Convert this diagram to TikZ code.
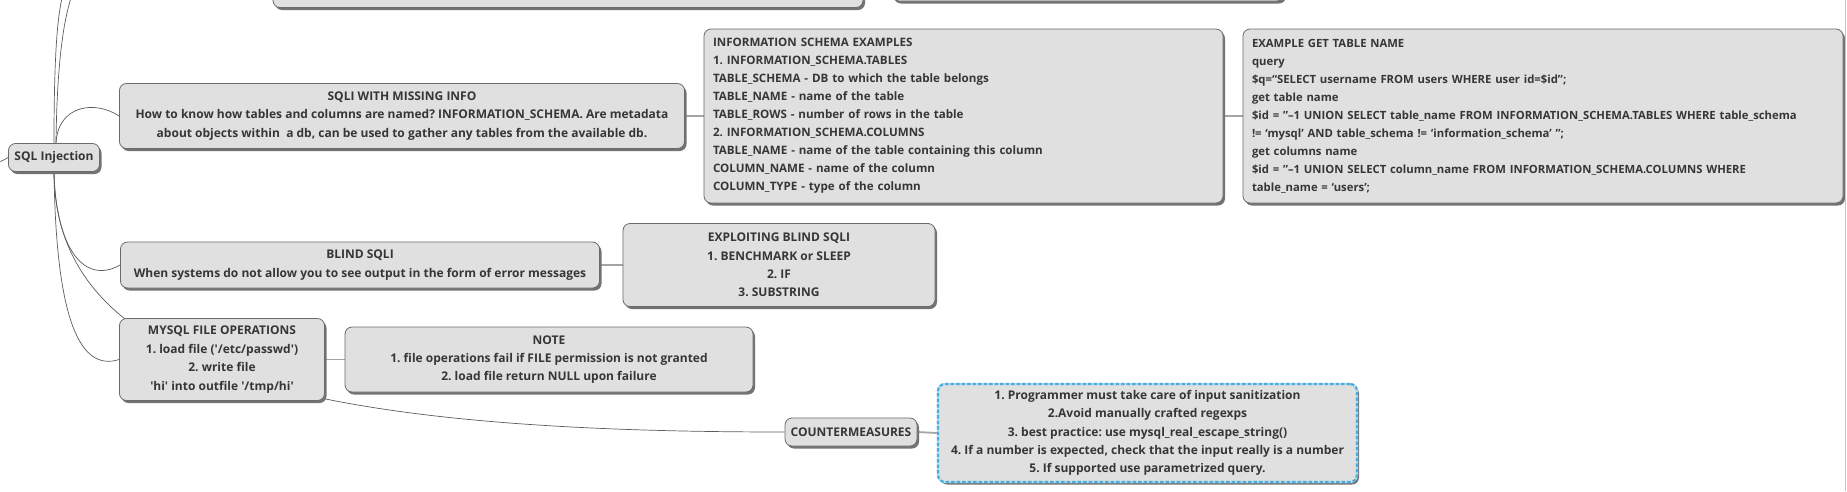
\documentclass[tikz,border=0pt]{standalone}
\usepackage{fontspec}
\setmainfont{Open Sans}
\usepackage{xcolor}
\usepackage{tikz}
\usetikzlibrary{shadows,backgrounds}

\definecolor{boxfill}{HTML}{E0E0E0}
\definecolor{boxline}{HTML}{6A6A6A}
\definecolor{ink}{HTML}{363636}
\definecolor{wire}{HTML}{5C5C5C}
\definecolor{subwire}{HTML}{A4A4A4}
\definecolor{selblue}{HTML}{4AAEDC}

\tikzset{
	topic/.style={draw=boxline, fill=boxfill, rounded corners=7pt, line width=0.8pt,
		text=ink, font=\bfseries\frenchspacing\fontsize{12}{18.4}\selectfont, align=center,
		inner sep=0pt, drop shadow={shadow xshift=2pt, shadow yshift=-2.5pt, fill=black!55, opacity=1}},
	listbox/.style={topic, align=left, inner xsep=9pt,
		font=\bfseries\frenchspacing\fontsize{11.6}{18}\selectfont},
	selbox/.style={topic, draw=selblue!40, line width=2.2pt,
		postaction={draw=selblue, dash pattern=on 3.5pt off 2pt, line width=2.2pt}},
	wire/.style={draw=wire, line width=0.7pt},
	subwire/.style={draw=subwire, line width=1.8pt}
}

\begin{document}
\begin{tikzpicture}[x=1pt, y=-1pt]
				\useasboundingbox (0,0) rectangle (1847,491);
				
				% cut-off topics above
				\node[topic, minimum width=590, minimum height=40] (topA) at (568,-12.5) {};
				\node[topic, minimum width=392, minimum height=40] (topB) at (1088,-19) {};
				
				% root
				\node[topic, minimum width=91, minimum height=28] (root) at (54,157.5) {SQL Injection};
				
				% first branch
				\node[topic, minimum width=565, minimum height=65] (info) at (402,116)
				{SQLI WITH MISSING INFO\\How to know how tables and columns are named? INFORMATION\_SCHEMA. Are metadata\\about objects within\ \ a db, can be used to gather any tables from the available db.};
				\node[listbox, text width=501, minimum height=174] (schema) at (963.5,116)
				{INFORMATION SCHEMA EXAMPLES\\1. INFORMATION\_SCHEMA.TABLES\\TABLE\_SCHEMA - DB to which the table belongs\\TABLE\_NAME - name of the table\\TABLE\_ROWS - number of rows in the table\\2. INFORMATION\_SCHEMA.COLUMNS\\TABLE\_NAME - name of the table containing this column\\COLUMN\_NAME - name of the column\\COLUMN\_TYPE - type of the column};
				\node[listbox, text width=582, minimum height=174, font=\bfseries\frenchspacing\fontsize{11.3}{18}\selectfont] (getname) at (1543,116)
				{EXAMPLE GET TABLE NAME\\query\\\$q=“SELECT username FROM users WHERE user id=\$id”;\\get table name\\\$id = ”–1 UNION SELECT table\_name FROM INFORMATION\_SCHEMA.TABLES WHERE table\_schema\\!= ‘mysql’ AND table\_schema != ‘information\_schema’ ”;\\get columns name\\\$id = ”–1 UNION SELECT column\_name FROM INFORMATION\_SCHEMA.COLUMNS WHERE\\table\_name = ‘users’;};
				
				% blind
				\node[topic, minimum width=479, minimum height=46] (blind) at (360,265)
				{BLIND SQLI\\When systems do not allow you to see output in the form of error messages};
				\node[topic, minimum width=312, minimum height=83] (exploit) at (779,265)
				{EXPLOITING BLIND SQLI\\1. BENCHMARK or SLEEP\\2. IF\\3. SUBSTRING};
				
				% file operations
				\node[topic, minimum width=205, minimum height=82] (fileops) at (222,359.5)
				{MYSQL FILE OPERATIONS\\1. load file (\textquotesingle/etc/passwd\textquotesingle)\\2. write file\\\textquotesingle hi\textquotesingle{} into outfile \textquotesingle/tmp/hi\textquotesingle};
				\node[topic, minimum width=408, minimum height=65] (note) at (549,359.5)
				{NOTE\\1. file operations fail if FILE permission is not granted\\2. load file return NULL upon failure};
				
				% countermeasures
				\node[topic, minimum width=132, minimum height=28] (counter) at (851,432) {COUNTERMEASURES};
				\node[selbox, minimum width=419, minimum height=98] (defense) at (1147.5,433)
				{1. Programmer must take care of input sanitization\\2.Avoid manually crafted regexps\\3. best practice: use mysql\_real\_escape\_string()\\4. If a number is expected, check that the input really is a number\\5. If supported use parametrized query.};
				
				\coordinate (prev) at (-2,162);
				\coordinate (upA) at (62,-2);
				\coordinate (upB) at (71,-2);
				
				\begin{scope}[on background layer]
					\draw[wire] (prev) .. controls (3,161) and (5,159) .. (root.west);
					\draw[wire] (root.north) .. controls (54,60) and (57,20) .. (upA);
					\draw[wire] ([xshift=2]root.north) .. controls (57,60) and (64,20) .. (upB);
					\draw[wire] ([xshift=2]root.north) .. controls (58,105) and (95,100) .. (info.west);
					\draw[wire] (root.south) .. controls (56,250) and (85,285) .. (blind.west);
					\draw[wire] (root.south) .. controls (55,370) and (300,432) .. (counter.west);
					\draw[wire] (root.south) .. controls (56,320) and (80,372) .. (fileops.west);
					\foreach \x/\y in
					{info/schema, schema/getname, blind/exploit, fileops/note, counter/defense}{
						\draw[subwire] (\x.east) -- (\y.west);
					}
				\end{scope}
				
				% window edge
				\draw[gray!45, line width=1pt] (1845.5,0) -- (1845.5,491);
			\end{tikzpicture}
\end{document}
